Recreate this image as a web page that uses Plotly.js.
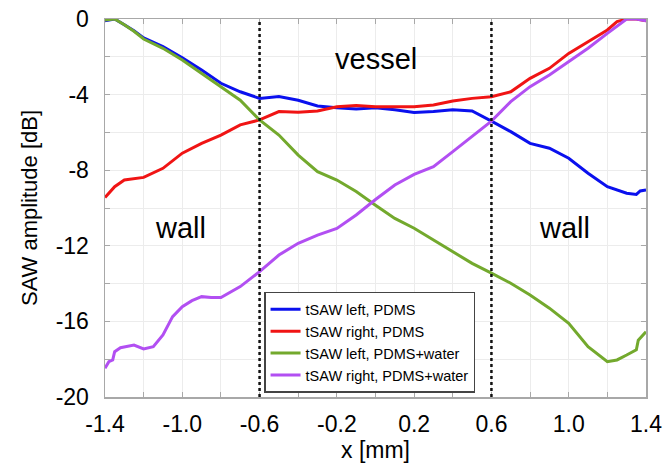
<!DOCTYPE html>
<html>
<head>
<meta charset="utf-8">
<script src="https://cdn.plot.ly/plotly-3.0.1.min.js"></script>
<style>html,body{margin:0;padding:0;background:#fff;}#chart{width:670px;height:465px;}</style>
</head>
<body>
<div id="chart"></div>
<script>
// ---- data ----
const blueX = [-1.4,-1.35,-1.3,-1.25,-1.2,-1.1,-1.0,-0.9,-0.8,-0.7,-0.6,-0.5,-0.4,-0.3,-0.2,-0.1,0,0.1,0.2,0.3,0.4,0.5,0.6,0.7,0.8,0.9,1.0,1.1,1.2,1.3,1.35,1.37,1.4];
const blueY = [-0.1,0,-0.3,-0.62,-1.0,-1.46,-2.05,-2.7,-3.4,-3.85,-4.2,-4.1,-4.3,-4.6,-4.7,-4.76,-4.7,-4.8,-4.95,-4.9,-4.8,-4.87,-5.4,-5.96,-6.58,-6.84,-7.37,-8.16,-8.87,-9.22,-9.28,-9.1,-9.05];

const redX = [-1.4,-1.35,-1.3,-1.2,-1.1,-1.0,-0.9,-0.8,-0.7,-0.6,-0.5,-0.4,-0.3,-0.2,-0.1,0,0.1,0.2,0.3,0.4,0.5,0.6,0.7,0.8,0.9,1.0,1.1,1.2,1.25,1.3,1.35,1.4];
const redY = [-9.45,-8.87,-8.52,-8.38,-7.9,-7.1,-6.58,-6.14,-5.6,-5.34,-4.9,-4.94,-4.87,-4.64,-4.58,-4.64,-4.64,-4.64,-4.55,-4.34,-4.2,-4.11,-3.85,-3.14,-2.61,-1.82,-1.2,-0.58,-0.14,0,0,-0.1];

const greenX = [-1.4,-1.35,-1.3,-1.25,-1.2,-1.1,-1.0,-0.9,-0.8,-0.7,-0.6,-0.5,-0.4,-0.3,-0.2,-0.1,0,0.1,0.2,0.3,0.4,0.5,0.6,0.7,0.8,0.9,1.0,1.1,1.2,1.25,1.3,1.35,1.36,1.4];
const greenY = [-0.05,0,-0.3,-0.65,-1.06,-1.55,-2.17,-2.87,-3.58,-4.3,-5.34,-6.14,-7.2,-8.08,-8.52,-9.13,-9.85,-10.55,-11.07,-11.7,-12.3,-12.93,-13.45,-13.98,-14.6,-15.3,-16.1,-17.34,-18.13,-18.04,-17.78,-17.5,-17.0,-16.55];

const purpleX = [-1.4,-1.38,-1.36,-1.35,-1.32,-1.3,-1.25,-1.2,-1.15,-1.1,-1.05,-1.0,-0.95,-0.9,-0.85,-0.8,-0.75,-0.7,-0.6,-0.5,-0.4,-0.3,-0.2,-0.1,0,0.1,0.2,0.3,0.4,0.5,0.6,0.7,0.8,0.9,1.0,1.1,1.2,1.25,1.3,1.35,1.4];
const purpleY = [-18.48,-18.13,-18.04,-17.6,-17.39,-17.34,-17.25,-17.46,-17.34,-16.72,-15.75,-15.22,-14.9,-14.69,-14.74,-14.74,-14.46,-14.16,-13.37,-12.49,-11.87,-11.43,-11.08,-10.37,-9.55,-8.78,-8.22,-7.81,-7.02,-6.23,-5.4,-4.37,-3.58,-2.96,-2.26,-1.55,-0.76,-0.4,0,0,-0.1];

const seriesNames = ["tSAW left, PDMS","tSAW right, PDMS","tSAW left, PDMS+water","tSAW right, PDMS+water"];

const xTickVals = [-1.4,-1.2,-1.0,-0.8,-0.6,-0.4,-0.2,0,0.2,0.4,0.6,0.8,1.0,1.2,1.4];
const xTickText = ["-1.4","","-1.0","","-0.6","","-0.2","","0.2","","0.6","","1.0","","1.4"];
const yTickVals = [-20,-18,-16,-14,-12,-10,-8,-6,-4,-2,0];
const yTickText = ["-20","","-16","","-12","","-8","","-4","","0"];

const boundaryX = [-0.6, 0.6];
const regionLabels = [{x:0, y:-2.1, text:"vessel"},{x:-1.01, y:-11.05, text:"wall"},{x:0.98, y:-11.05, text:"wall"}];

// ---- chart ----
const FONT = "Liberation Sans, Arial, sans-serif";
const colors = ["#0a10ee","#f01414","#73a92d","#b24ff2"];
const xs = [blueX, redX, greenX, purpleX];
const ys = [blueY, redY, greenY, purpleY];
const traces = xs.map((x,i)=>({
  x:x, y:ys[i], type:"scatter", mode:"lines", name:seriesNames[i],
  line:{color:colors[i], width:3}
}));

const shapes = boundaryX.map(v=>({
  type:"line", xref:"x", yref:"paper", x0:v, x1:v, y0:0, y1:1,
  line:{color:"#111", width:2.5, dash:"dot"}, layer:"above"
}));

const annotations = regionLabels.map(r=>({
  x:r.x, y:r.y, xref:"x", yref:"y", text:r.text, showarrow:false,
  font:{family:FONT, size:29, color:"#000"}
}));

const axisCommon = {
  showgrid:true, gridcolor:"#ececec", gridwidth:1,
  showline:true, linecolor:"#a8a8a8", linewidth:1.5, mirror:"ticks",
  ticks:"inside", ticklen:5, tickcolor:"#a8a8a8", tickwidth:1,
  zeroline:false,
  tickfont:{family:FONT, size:23, color:"#000"}
};

const layout = {
  width:670, height:465,
  margin:{l:105, r:24, t:19, b:68},
  paper_bgcolor:"#fff", plot_bgcolor:"#fff",
  showlegend:true,
  legend:{
    x:0.294, y:0.278, xanchor:"left", yanchor:"top",
    bgcolor:"#fff", bordercolor:"#444", borderwidth:1.5,
    font:{family:FONT, size:14.5, color:"#000"},
    tracegroupgap:0
  },
  xaxis:Object.assign({}, axisCommon, {
    range:[-1.4,1.4], tickmode:"array", tickvals:xTickVals, ticktext:xTickText,
    ticklabelstandoff:6,
    title:{text:"x [mm]", font:{family:FONT, size:23, color:"#000"}, standoff:3}
  }),
  yaxis:Object.assign({}, axisCommon, {
    range:[-20,0], tickmode:"array", tickvals:yTickVals, ticktext:yTickText,
    ticklabelstandoff:10,
    title:{text:"SAW amplitude [dB]", font:{family:FONT, size:22, color:"#000"}, standoff:12}
  }),
  shapes:shapes,
  annotations:annotations
};

Plotly.newPlot("chart", traces, layout, {displayModeBar:false, staticPlot:true});
</script>
</body>
</html>
